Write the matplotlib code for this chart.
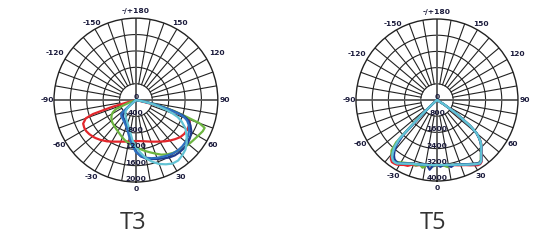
import numpy as np
import matplotlib
matplotlib.use("Agg")
import matplotlib.pyplot as plt

# photometric curves, angle 0 = straight down, 90 = right
t3_angles = [-90, -80, -76, -74, -72, -70, -66, -62, -58, -54, -50, -48, -46, -42, -35,
             -30, -25, -20, -15, -10, -5, 0, 5, 10, 15, 20, 25, 30, 35, 40, 45, 50, 55,
             60, 65, 68, 70, 72, 74, 76, 78, 80, 85, 90]
t3_red = [0, 0, 150, 600, 1100, 1300, 1410, 1430, 1430, 1410, 1380, 1365, 1345, 1305, 1230,
          1170, 1120, 1080, 1050, 1025, 1005, 1000, 1005, 1020, 1045, 1080, 1120, 1170, 1230,
          1290, 1350, 1410, 1440, 1445, 1440, 1420, 1350, 1200, 900, 450, 100, 0, 0, 0]
t3_green = [0, 0, 0, 0, 0, 150, 530, 640, 700, 740, 770, 785, 795, 815, 850,
            880, 920, 970, 1020, 1060, 1100, 1150, 1200, 1260, 1320, 1390, 1470, 1530, 1575,
            1610, 1645, 1680, 1710, 1750, 1800, 1810, 1650, 1250, 980, 680, 420, 180, 0, 0]
t3_navy = [0, 0, 0, 0, 0, 0, 0, 0, 0, 0, 0, 200, 420, 490, 530,
           555, 585, 640, 720, 860, 1060, 1250, 1380, 1450, 1490, 1530, 1570, 1620, 1650,
           1660, 1660, 1650, 1610, 1565, 1470, 1400, 1320, 1200, 900, 600, 350, 150, 0, 0]
t3_blue = [0, 0, 0, 0, 0, 0, 0, 0, 0, 0, 200, 420, 500, 530, 560,
           590, 630, 690, 780, 920, 1100, 1270, 1370, 1430, 1470, 1500, 1530, 1560, 1585,
           1600, 1600, 1585, 1550, 1500, 1420, 1350, 1270, 1140, 880, 600, 360, 160, 0, 0]
t3_cyan = [0, 0, 0, 0, 0, 0, 0, 0, 0, 0, 0, 150, 300, 380, 450,
           495, 540, 600, 680, 800, 980, 1150, 1290, 1450, 1560, 1660, 1730, 1790, 1800,
           1760, 1710, 1620, 1510, 1400, 1230, 1100, 950, 800, 620, 450, 280, 130, 0, 0]

t5_angles = [-90, -60, -50, -48, -46, -44, -42, -40, -38, -36, -34, -32, -30, -27, -24, -21,
             -18, -15, -12, -9, -6, -3, 0, 3, 6, 9, 12, 15, 18, 21, 24, 27, 30, 32, 34, 36,
             38, 40, 42, 44, 46, 48, 50, 52, 55, 58, 60, 90]
t5_red = [0, 0, 0, 250, 1000, 2600, 3200, 3480, 3700, 3790,
          3780, 3760, 3700, 3600, 3560, 3420, 3400, 3330, 3310, 3260,
          3250, 3230, 3240, 3220, 3250, 3280, 3300, 3330, 3390, 3450,
          3520, 3620, 3720, 3800, 3820, 3760, 3600, 3450, 3300, 3180,
          3020, 2820, 2560, 2080, 1150, 350, 0, 0]
t5_green = [0, 0, 0, 350, 1250, 2900, 3350, 3500, 3600, 3650,
            3660, 3620, 3560, 3480, 3420, 3350, 3400, 3300, 3420, 3260,
            3230, 3280, 3210, 3230, 3260, 3350, 3280, 3300, 3340, 3400,
            3470, 3550, 3640, 3700, 3730, 3680, 3520, 3380, 3250, 3140,
            2990, 2790, 2550, 2090, 1180, 380, 0, 0]
t5_navy = [0, 0, 0, 200, 900, 2400, 2950, 3250, 3450, 3580,
           3640, 3650, 3600, 3520, 3440, 3370, 3320, 3280, 3250, 3230,
           3460, 3220, 3200, 3300, 3210, 3230, 3380, 3300, 3340, 3400,
           3470, 3550, 3630, 3690, 3740, 3700, 3530, 3380, 3250, 3130,
           2980, 2780, 2540, 2070, 1170, 380, 0, 0]
t5_blue = [0, 0, 0, 280, 1050, 2650, 3100, 3380, 3580, 3680,
           3700, 3680, 3610, 3520, 3440, 3370, 3330, 3300, 3270, 3250,
           3230, 3240, 3220, 3220, 3230, 3250, 3280, 3320, 3360, 3430,
           3500, 3580, 3670, 3740, 3790, 3730, 3560, 3410, 3280, 3160,
           3010, 2810, 2570, 2110, 1210, 410, 0, 0]
t5_cyan = [0, 0, 0, 300, 1100, 2700, 3150, 3400, 3600, 3700,
           3720, 3700, 3620, 3530, 3450, 3380, 3330, 3290, 3260, 3240,
           3220, 3210, 3210, 3210, 3220, 3240, 3270, 3310, 3350, 3420,
           3490, 3570, 3660, 3720, 3770, 3720, 3550, 3400, 3270, 3150,
           3000, 2800, 2560, 2100, 1200, 400, 0, 0]

angle_labels = {0: "0", 30: "30", 60: "60", 90: "90", 120: "120", 150: "150",
                180: "-/+180", -150: "-150", -120: "-120", -90: "-90", -60: "-60", -30: "-30"}

colors = ["#e3262b", "#6cb540", "#1f3c8e", "#2d6fbf", "#62c3d4"]
label_color = "#1b1b3c"


def draw_diagram(ax, angles, series, rmax):
    ax.set_theta_zero_location("S")
    ax.set_theta_direction(1)
    ax.set_ylim(0, rmax)
    ax.set_xticks([])
    ax.set_yticks([])
    ax.grid(False)
    ax.spines["polar"].set_linewidth(1.0)
    ax.spines["polar"].set_color("#222222")

    step = rmax / 5
    th = np.linspace(0, 2 * np.pi, 361)
    for k in range(1, 5):
        ax.plot(th, np.full_like(th, step * k), color="#222222", lw=0.8, zorder=1)
    for a in range(0, 360, 10):
        if a % 90 == 0:
            continue
        ax.plot([np.deg2rad(a)] * 2, [step, rmax], color="#222222", lw=0.8, zorder=1)
    for a in (0, 90, 180, 270):
        ax.plot([np.deg2rad(a)] * 2, [0, rmax], color="#555555", lw=1.3, zorder=1)

    for vals, c in zip(series, colors):
        ax.plot(np.deg2rad(angles), vals, color=c, lw=1.6, zorder=3)

    for a, txt in angle_labels.items():
        f = 1.14 if abs(a) == 120 else 1.085
        ax.text(np.deg2rad(a), rmax * f, txt, ha="center", va="center",
                fontsize=5.4, fontweight="bold", color=label_color, clip_on=False)
    for k in range(6):
        ax.text(0, step * k, str(int(step * k)), ha="center", va="bottom",
                fontsize=5.4, fontweight="bold", color=label_color, zorder=4)


fig = plt.figure(figsize=(5.48, 2.45), dpi=100)
ax1 = fig.add_axes([0.0985, 0.257, 0.299, 0.669], projection="polar")
ax2 = fig.add_axes([0.6496, 0.2612, 0.2956, 0.6612], projection="polar")

draw_diagram(ax1, t3_angles, [t3_red, t3_green, t3_navy, t3_blue, t3_cyan], 2000)
draw_diagram(ax2, t5_angles, [t5_red, t5_green, t5_navy, t5_blue, t5_cyan], 4000)

fig.text(133 / 548, 1 - 223 / 245, "T3", ha="center", va="center",
         fontsize=17, family="Open Sans", color="#333333")
fig.text(433 / 548, 1 - 223 / 245, "T5", ha="center", va="center",
         fontsize=17, family="Open Sans", color="#333333")

fig.savefig("out.png", dpi=100)
